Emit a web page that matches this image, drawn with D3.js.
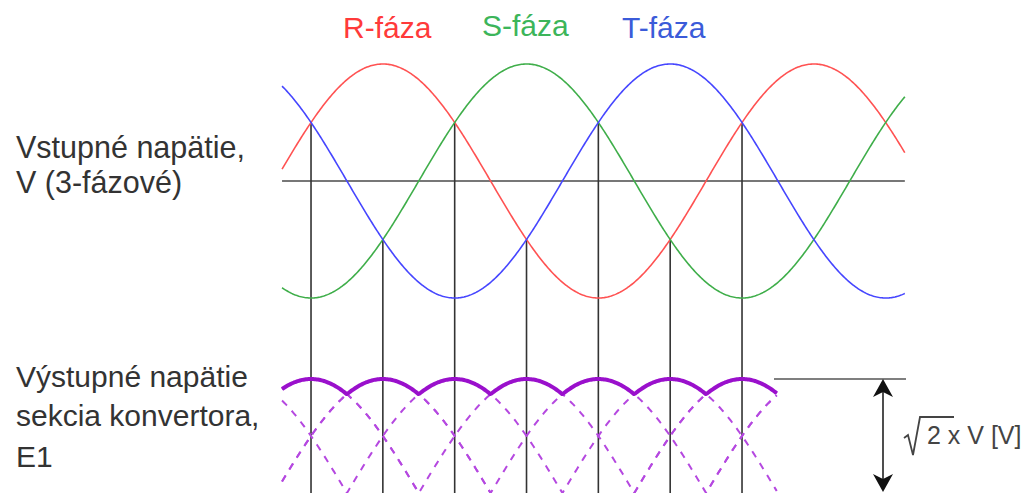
<!DOCTYPE html>
<html>
<head>
<meta charset="utf-8">
<script src="https://cdn.jsdelivr.net/npm/d3@7"></script>
<style>
  body { margin: 0; background: #fff; }
  text { font-family: 'Liberation Sans', Arial, sans-serif; }
</style>
</head>
<body>
<div id="chart"></div>
<script>
// phases of the 3-phase input (degrees of lag)
const phaseNames = ['R-fáza', 'S-fáza', 'T-fáza']
const phaseShift = [0, 120, -120]
const phaseColors = ['#ff5252', '#3fae4a', '#4646ff']
const labelColors = ['#ff3a3a', '#3cb55a', '#3b5bd9']

// angles where two phases cross (vertical lines) and the level of the crossing
const crossAngles = [30, 90, 150, 210, 270, 330, 390]
const crossLevels = [0.5, -0.5, 0.5, -0.5, 0.5, -0.5, 0.5]

// peaks of the rectified pulses of the converter output
const pulsePeaks = [30, 90, 150, 210, 270, 330, 390, 450]

const inputRange = [5.8, 526]
const outputRange = [5.8, 419]

const leftTop = ['Vstupné napätie,', 'V (3-fázové)']
const leftBottom = ['Výstupné napätie', 'sekcia konvertora,', 'E1']

const W = 1034
const H = 493

const svg = d3.select('#chart')
  .append('svg')
  .attr('width', W)
  .attr('height', H)

const x = d3.scaleLinear().domain([0, 360]).range([275.1, 706.1])
const yIn = d3.scaleLinear().domain([-1, 1]).range([298, 64])
const yOut = d3.scaleLinear().domain([0, 1]).range([493, 379])

const rad = Math.PI / 180

function steps (range) {
  let a = []
  for (let t = range[0]; t < range[1]; t += 1) a.push(t)
  a.push(range[1])
  return a
}

const thIn = steps(inputRange)
const thOut = steps(outputRange)

// zero line
svg.append('line')
  .attr('x1', x(inputRange[0]))
  .attr('x2', x(inputRange[1]))
  .attr('y1', yIn(0))
  .attr('y2', yIn(0))
  .attr('stroke', '#777')
  .attr('stroke-width', 2.2)

// vertical lines from the crossings down
svg.selectAll('.vline')
  .data(crossAngles)
  .enter()
  .append('line')
  .classed('vline', true)
  .attr('x1', (d) => x(d))
  .attr('x2', (d) => x(d))
  .attr('y1', (d, i) => yIn(crossLevels[i]))
  .attr('y2', H)
  .attr('stroke', '#333')
  .attr('stroke-width', 1.6)

// input phases
const lineIn = d3.line()
  .x((d) => x(d[0]))
  .y((d) => yIn(d[1]))

phaseShift.forEach((s, i) => {
  svg.append('path')
    .datum(thIn.map((t) => [t, Math.sin((t - s) * rad)]))
    .attr('d', lineIn)
    .attr('fill', 'none')
    .attr('stroke', phaseColors[i])
    .attr('stroke-width', 1.6)
})

// phase labels
const labelX = [343, 482, 622]
const labelY = [38, 36, 38]
svg.selectAll('.plabel')
  .data(phaseNames)
  .enter()
  .append('text')
  .classed('plabel', true)
  .attr('x', (d, i) => labelX[i])
  .attr('y', (d, i) => labelY[i])
  .attr('fill', (d, i) => labelColors[i])
  .style('font-size', '30px')
  .text((d) => d)

// output pulses (dashed)
const lineOut = d3.line()
  .x((d) => x(d[0]))
  .y((d) => yOut(d[1]))

pulsePeaks.forEach((p) => {
  svg.append('path')
    .datum(thOut.map((t) => [t, Math.cos((t - p) * rad)]))
    .attr('d', lineOut)
    .attr('fill', 'none')
    .attr('stroke', '#b548e0')
    .attr('stroke-width', 2)
    .attr('stroke-dasharray', '7,7')
})

// envelope
svg.append('path')
  .datum(thOut.map((t) => [t, d3.max(pulsePeaks, (p) => Math.cos((t - p) * rad))]))
  .attr('d', lineOut)
  .attr('fill', 'none')
  .attr('stroke', '#9a10cc')
  .attr('stroke-width', 4)
  .attr('stroke-linejoin', 'round')

// peak reference line and double arrow
const arrowX = 883
svg.append('line')
  .attr('x1', 774)
  .attr('x2', 906)
  .attr('y1', yOut(1))
  .attr('y2', yOut(1))
  .attr('stroke', '#555')
  .attr('stroke-width', 1.6)

svg.append('line')
  .attr('x1', arrowX)
  .attr('x2', arrowX)
  .attr('y1', yOut(1) + 10)
  .attr('y2', H - 10)
  .attr('stroke', '#222')
  .attr('stroke-width', 1.6)

function head (tipY, dir) {
  return `M${arrowX},${tipY} L${arrowX + 10},${tipY + dir * 18} ` +
    `L${arrowX},${tipY + dir * 13} L${arrowX - 10},${tipY + dir * 18} Z`
}
svg.append('path').attr('d', head(yOut(1), 1)).attr('fill', '#111')
svg.append('path').attr('d', head(H - 1, -1)).attr('fill', '#111')

// sqrt(2) x V label
const rootG = svg.append('g').attr('fill', '#444').style('font-size', '25px')
rootG.append('path')
  .attr('d', 'M904,438 L908,435 L913,455 L920,417 L954,417')
  .attr('fill', 'none')
  .attr('stroke', '#444')
  .attr('stroke-width', 1.8)
rootG.append('text')
  .attr('x', 927)
  .attr('y', 444)
  .text('2 x V [V]')

// left labels
svg.selectAll('.ltop')
  .data(leftTop)
  .enter()
  .append('text')
  .attr('x', 16)
  .attr('y', (d, i) => 158 + i * 35)
  .attr('fill', '#333')
  .style('font-size', '30.5px')
  .text((d) => d)

const bottomY = [387, 426, 467]
svg.selectAll('.lbot')
  .data(leftBottom)
  .enter()
  .append('text')
  .attr('x', 16)
  .attr('y', (d, i) => bottomY[i])
  .attr('fill', '#333')
  .style('font-size', '30px')
  .text((d) => d)
</script>
</body>
</html>
